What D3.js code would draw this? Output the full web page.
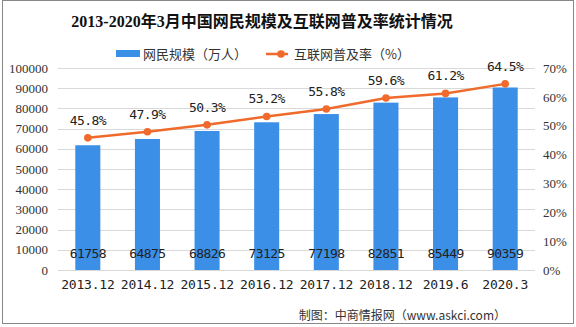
<!DOCTYPE html>
<html>
<head>
<meta charset="utf-8">
<script src="https://cdn.jsdelivr.net/npm/d3@7"></script>
<style>
  html, body { margin: 0; padding: 0; background: #fff; }
  svg { display: block; }
</style>
</head>
<body>
<div id="chart"></div>
<script>
// Chart data
const categories = ["2013.12", "2014.12", "2015.12", "2016.12", "2017.12", "2018.12", "2019.6", "2020.3"];
const netizens = [61758, 64875, 68826, 73125, 77198, 82851, 85449, 90359];       // 万人
const penetration = [45.8, 47.9, 50.3, 53.2, 55.8, 59.6, 61.2, 64.5];            // %
const leftTicks = [0, 10000, 20000, 30000, 40000, 50000, 60000, 70000, 80000, 90000, 100000];
const rightTicks = [0, 10, 20, 30, 40, 50, 60, 70];

const W = 576, H = 327;
const plot = { left: 58, right: 535, top: 68, bottom: 270 };
const barColor = "#3B8FE6";
const lineColor = "#F06A2B";
const cjk = "'Liberation Serif', 'Noto Sans CJK SC', serif";
const monoish = "'DejaVu Sans Mono', 'Noto Sans CJK SC', monospace";

const svg = d3.select("#chart").append("svg")
  .attr("width", W).attr("height", H);

svg.append("rect").attr("width", W).attr("height", H).attr("fill", "#fff");

// Scales
const x = d3.scaleBand().domain(categories).range([plot.left, plot.right]).paddingInner(0.58).paddingOuter(0.29);
const xCenter = d => x(d) + x.bandwidth() / 2;
const yL = d3.scaleLinear().domain([0, 100000]).range([plot.bottom, plot.top]);
const yR = d3.scaleLinear().domain([0, 70]).range([plot.bottom, plot.top]);

// Gridlines
svg.append("g").selectAll("line").data(leftTicks).join("line")
  .attr("x1", plot.left).attr("x2", plot.right)
  .attr("y1", d => Math.round(yL(d)) + 0.5).attr("y2", d => Math.round(yL(d)) + 0.5)
  .attr("stroke", "#d9d9d9").attr("stroke-width", 1);

// Left axis
const axL = d3.axisLeft(yL).tickValues(leftTicks).tickSize(0).tickPadding(0).tickFormat(d3.format("d"));
svg.append("g").attr("transform", `translate(${plot.left - 10},0)`).call(axL)
  .call(g => g.select(".domain").remove())
  .call(g => g.selectAll("text").attr("font-family", cjk).attr("font-size", 13).attr("fill", "#333"));

// Right axis
const axR = d3.axisRight(yR).tickValues(rightTicks).tickSize(0).tickPadding(0).tickFormat(d => d + "%");
svg.append("g").attr("transform", `translate(${plot.right + 8},0)`).call(axR)
  .call(g => g.select(".domain").remove())
  .call(g => g.selectAll("text").attr("font-family", cjk).attr("font-size", 13).attr("fill", "#333"));

// Bottom axis
const axB = d3.axisBottom(x).tickSize(0).tickPadding(0);
svg.append("g").attr("transform", `translate(0,${plot.bottom + 10})`).call(axB)
  .call(g => g.select(".domain").remove())
  .call(g => g.selectAll("text").attr("font-family", monoish).attr("font-size", 13).attr("fill", "#222").attr("letter-spacing", -0.2));

// Bars
svg.append("g").selectAll("rect").data(netizens).join("rect")
  .attr("x", (d, i) => x(categories[i]))
  .attr("width", x.bandwidth())
  .attr("y", d => yL(d))
  .attr("height", d => yL(0) - yL(d))
  .attr("fill", barColor);

// Bar value labels
svg.append("g").selectAll("text").data(netizens).join("text")
  .attr("x", (d, i) => xCenter(categories[i]))
  .attr("y", plot.bottom - 12)
  .attr("text-anchor", "middle")
  .attr("font-family", monoish).attr("font-size", 13).attr("fill", "#222")
  .attr("letter-spacing", -0.6)
  .text(d => d);

// Penetration line
const line = d3.line().x((d, i) => xCenter(categories[i])).y(d => yR(d));
svg.append("path").datum(penetration)
  .attr("d", line).attr("fill", "none")
  .attr("stroke", lineColor).attr("stroke-width", 2.5);

svg.append("g").selectAll("circle").data(penetration).join("circle")
  .attr("cx", (d, i) => xCenter(categories[i]))
  .attr("cy", d => yR(d))
  .attr("r", 3.8).attr("fill", lineColor);

svg.append("g").selectAll("text").data(penetration).join("text")
  .attr("x", (d, i) => xCenter(categories[i]))
  .attr("y", d => yR(d) - 13)
  .attr("text-anchor", "middle")
  .attr("font-family", monoish).attr("font-size", 13).attr("fill", "#222")
  .attr("letter-spacing", -0.6)
  .text(d => d.toFixed(1) + "%");

// Title
svg.append("text")
  .attr("x", 262).attr("y", 27).attr("text-anchor", "middle")
  .attr("font-family", cjk).attr("font-size", 16).attr("font-weight", "bold").attr("fill", "#111")
  .text("2013-2020年3月中国网民规模及互联网普及率统计情况");

// Legend
const lg = svg.append("g");
lg.append("rect").attr("x", 116).attr("y", 50).attr("width", 24).attr("height", 7).attr("fill", barColor);
lg.append("text").attr("x", 143).attr("y", 59)
  .attr("font-family", "'Noto Sans CJK SC', sans-serif").attr("font-size", 13).attr("fill", "#333")
  .text("网民规模（万人）");
lg.append("line").attr("x1", 266).attr("x2", 288).attr("y1", 54).attr("y2", 54)
  .attr("stroke", lineColor).attr("stroke-width", 2.5);
lg.append("circle").attr("cx", 281).attr("cy", 54).attr("r", 3.8).attr("fill", lineColor);
lg.append("text").attr("x", 294).attr("y", 59)
  .attr("font-family", "'Noto Sans CJK SC', sans-serif").attr("font-size", 13).attr("fill", "#333")
  .text("互联网普及率（%）");

// Source note
svg.append("text").attr("x", 506).attr("y", 320).attr("text-anchor", "end")
  .attr("font-family", "'Noto Sans CJK SC', sans-serif").attr("font-size", 12).attr("fill", "#333")
  .text("制图：中商情报网（www.askci.com）");

// Frame
svg.append("rect").attr("x", 2.5).attr("y", 0.5).attr("width", W - 5).attr("height", H - 4)
  .attr("fill", "none").attr("stroke", "#888").attr("stroke-width", 1);
</script>
</body>
</html>
